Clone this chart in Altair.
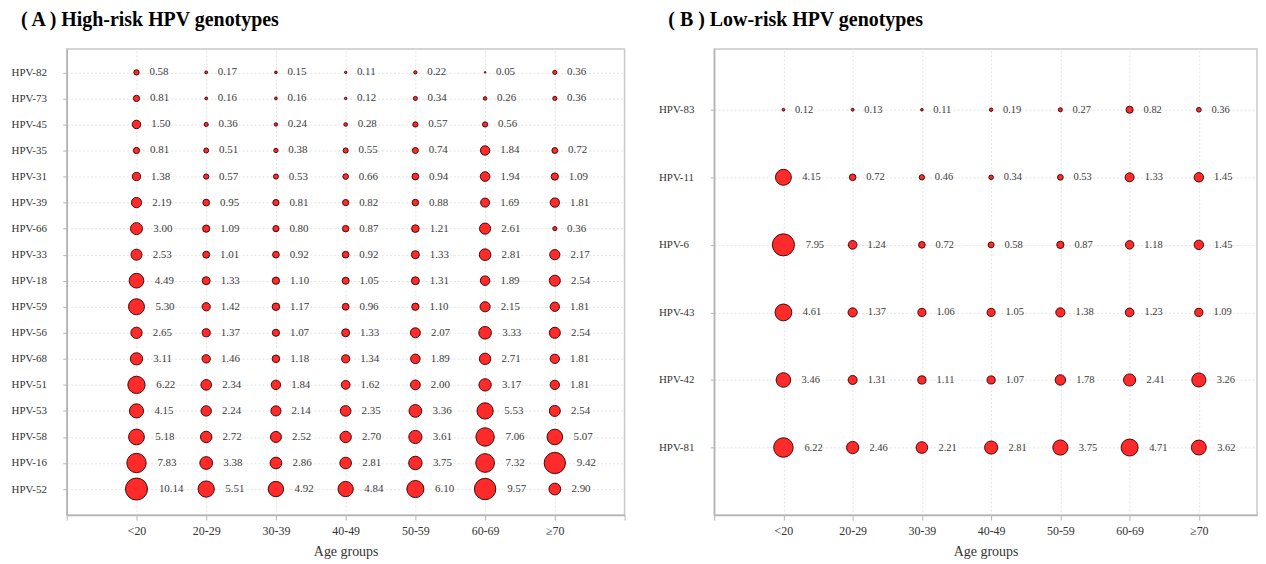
import json
import altair as alt
import pandas as pd

# ---------------- data ----------------
ages = ["<20", "20-29", "30-39", "40-49", "50-59", "60-69", "≥70"]

high_types = ["HPV-82", "HPV-73", "HPV-45", "HPV-35", "HPV-31", "HPV-39", "HPV-66", "HPV-33",
              "HPV-18", "HPV-59", "HPV-56", "HPV-68", "HPV-51", "HPV-53", "HPV-58", "HPV-16", "HPV-52"]
hpv82 = [0.58, 0.17, 0.15, 0.11, 0.22, 0.05, 0.36]
hpv73 = [0.81, 0.16, 0.16, 0.12, 0.34, 0.26, 0.36]
hpv45 = [1.50, 0.36, 0.24, 0.28, 0.57, 0.56, None]
hpv35 = [0.81, 0.51, 0.38, 0.55, 0.74, 1.84, 0.72]
hpv31 = [1.38, 0.57, 0.53, 0.66, 0.94, 1.94, 1.09]
hpv39 = [2.19, 0.95, 0.81, 0.82, 0.88, 1.69, 1.81]
hpv66 = [3.00, 1.09, 0.80, 0.87, 1.21, 2.61, 0.36]
hpv33 = [2.53, 1.01, 0.92, 0.92, 1.33, 2.81, 2.17]
hpv18 = [4.49, 1.33, 1.10, 1.05, 1.31, 1.89, 2.54]
hpv59 = [5.30, 1.42, 1.17, 0.96, 1.10, 2.15, 1.81]
hpv56 = [2.65, 1.37, 1.07, 1.33, 2.07, 3.33, 2.54]
hpv68 = [3.11, 1.46, 1.18, 1.34, 1.89, 2.71, 1.81]
hpv51 = [6.22, 2.34, 1.84, 1.62, 2.00, 3.17, 1.81]
hpv53 = [4.15, 2.24, 2.14, 2.35, 3.36, 5.53, 2.54]
hpv58 = [5.18, 2.72, 2.52, 2.70, 3.61, 7.06, 5.07]
hpv16 = [7.83, 3.38, 2.86, 2.81, 3.75, 7.32, 9.42]
hpv52 = [10.14, 5.51, 4.92, 4.84, 6.10, 9.57, 2.90]
high_values = [hpv82, hpv73, hpv45, hpv35, hpv31, hpv39, hpv66, hpv33, hpv18,
               hpv59, hpv56, hpv68, hpv51, hpv53, hpv58, hpv16, hpv52]

low_types = ["HPV-83", "HPV-11", "HPV-6", "HPV-43", "HPV-42", "HPV-81"]
hpv83 = [0.12, 0.13, 0.11, 0.19, 0.27, 0.82, 0.36]
hpv11 = [4.15, 0.72, 0.46, 0.34, 0.53, 1.33, 1.45]
hpv6 = [7.95, 1.24, 0.72, 0.58, 0.87, 1.18, 1.45]
hpv43 = [4.61, 1.37, 1.06, 1.05, 1.38, 1.23, 1.09]
hpv42 = [3.46, 1.31, 1.11, 1.07, 1.78, 2.41, 3.26]
hpv81 = [6.22, 2.46, 2.21, 2.81, 3.75, 4.71, 3.62]
low_values = [hpv83, hpv11, hpv6, hpv43, hpv42, hpv81]

FONT = "Liberation Serif"
FILL = "#ff2a2a"
STROKE = "#4a0505"
MAX_AREA = 490.0
GAP_PX = 10.0


def table(types, values):
    rows = []
    for ri, (t, vals) in enumerate(zip(types, values), start=1):
        for ai, v in enumerate(vals, start=1):
            if v is None:
                continue
            rows.append({"type": t, "ri": ri, "ai": ai, "age": ages[ai - 1], "v": v})
    return pd.DataFrame(rows)


def panel(types, values, title, width, height, y_lo, x_hi, label_size):
    df = table(types, values)
    vmax = float(df["v"].max())
    px_per_unit = width / x_hi
    n = len(types)
    age_js = json.dumps(ages, ensure_ascii=False)
    type_js = json.dumps(types)
    xticks = [i for i in range(0, 9) if i <= x_hi]

    x_axis = alt.Axis(
        values=xticks,
        labelExpr=f"(datum.value >= 1 && datum.value <= 7) ? {age_js}[datum.value - 1] : ''",
        title="Age groups",
        labelOverlap=False,
    )
    y_axis = alt.Axis(
        values=list(range(1, n + 1)),
        labelExpr=f"{type_js}[datum.value - 1]",
        title=None,
        labelAlign="left",
        labelPadding=52,
        labelOverlap=False,
    )
    xs = alt.Scale(domain=[0, x_hi], nice=False, zero=False)
    ys = alt.Scale(domain=[y_lo, n + 1], nice=False, zero=False, reverse=True)

    base = alt.Chart(df)
    pts = base.mark_point(
        shape="circle", filled=True, fill=FILL, stroke=STROKE, strokeWidth=1, opacity=1
    ).encode(
        x=alt.X("ai:Q", scale=xs, axis=x_axis),
        y=alt.Y("ri:Q", scale=ys, axis=y_axis),
        size=alt.Size("v:Q", scale=alt.Scale(domain=[0, vmax], range=[0, MAX_AREA], zero=True), legend=None),
    )
    txt = base.transform_calculate(
        xl=f"datum.ai + (sqrt(datum.v / {vmax} * {MAX_AREA} / PI) + {GAP_PX}) / {px_per_unit}",
        lab="format(datum.v, '.2f')",
    ).mark_text(
        align="left", baseline="middle", font=FONT, fontSize=label_size, color="#3a3a3a"
    ).encode(
        x=alt.X("xl:Q", scale=xs, axis=x_axis),
        y=alt.Y("ri:Q", scale=ys, axis=y_axis),
        text="lab:N",
    )
    return alt.layer(pts, txt).properties(
        width=width,
        height=height,
        title=alt.TitleParams(
            text=title, anchor="start", frame="group", dx=-46, offset=19,
            font=FONT, fontSize=20, fontWeight="bold", color="#000000",
        ),
    )


left = panel(high_types, high_values, "( A ) High-risk HPV genotypes", 560, 468, 0.1, 8, 11)
right = panel(low_types, low_values, "( B ) Low-risk HPV genotypes", 545, 468, 0.1, 7.84, 10.5)

chart = alt.hconcat(left, right, spacing=31).resolve_scale(
    x="independent", y="independent", size="independent"
).configure(
    padding={"left": 2, "top": 0, "right": 0, "bottom": 0},
    background="white",
).configure_view(
    stroke="#c8c8c8", strokeWidth=1.5
).configure_axis(
    labelFont=FONT, labelFontSize=11, labelColor="#333333", labelOverlap=False,
    titleFont=FONT, titleFontSize=14, titleFontWeight="normal", titleColor="#333333",
    domainColor="#b5b5b5", domainWidth=1.5,
    tickColor="#b5b5b5", tickSize=4, tickWidth=1,
    gridColor="#dcdcdc", gridDash=[2, 2], gridWidth=0.8,
).configure_axisX(
    labelFontSize=12, labelPadding=6, titlePadding=8, tickSize=5,
)

chart.save("out.html", embed_options={"renderer": "svg", "actions": False})
